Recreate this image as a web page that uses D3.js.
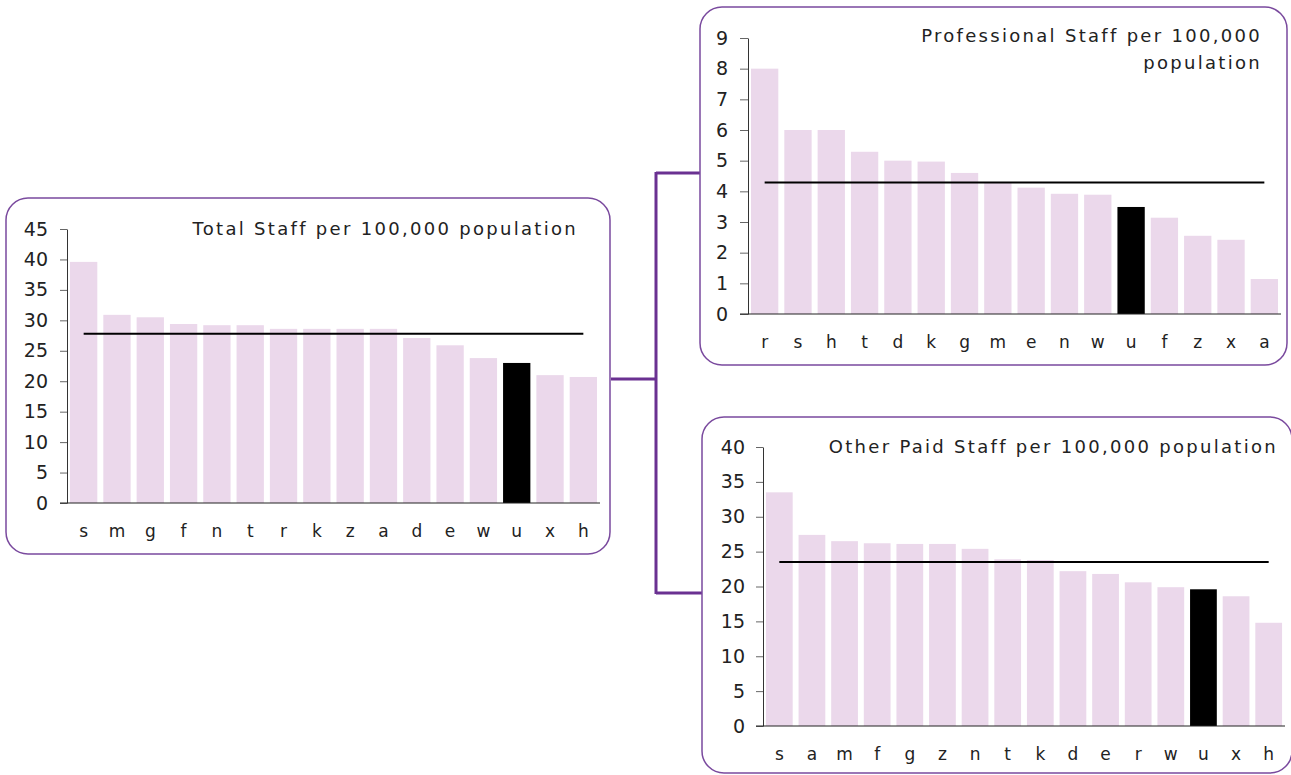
<!DOCTYPE html>
<html>
<head>
<meta charset="utf-8">
<script src="https://cdn.jsdelivr.net/npm/d3@7"></script>
<style>
  body { margin: 0; background: #fff; }
  text { font-family: "DejaVu Sans", sans-serif; fill: #222; }
</style>
</head>
<body>
<svg width="1291" height="775"></svg>
<script>
let highlight = "u";

let totalCats = ["s", "m", "g", "f", "n", "t", "r", "k", "z", "a", "d", "e", "w", "u", "x", "h"];
let totalValues = [39.6, 30.9, 30.5, 29.4, 29.2, 29.2, 28.6, 28.6, 28.6, 28.6, 27.1, 25.9, 23.8, 23.0, 21.0, 20.7];
let totalAvg = 27.8;
let totalTicks = [0, 5, 10, 15, 20, 25, 30, 35, 40, 45];

let profCats = ["r", "s", "h", "t", "d", "k", "g", "m", "e", "n", "w", "u", "f", "z", "x", "a"];
let profValues = [8.0, 6.0, 6.0, 5.29, 5.0, 4.97, 4.6, 4.3, 4.12, 3.92, 3.89, 3.49, 3.14, 2.55, 2.42, 1.14];
let profAvg = 4.29;
let profTicks = [0, 1, 2, 3, 4, 5, 6, 7, 8, 9];

let otherCats = ["s", "a", "m", "f", "g", "z", "n", "t", "k", "d", "e", "r", "w", "u", "x", "h"];
let otherValues = [33.5, 27.4, 26.5, 26.2, 26.1, 26.1, 25.4, 23.9, 23.8, 22.2, 21.8, 20.6, 19.9, 19.6, 18.6, 14.8];
let otherAvg = 23.5;
let otherTicks = [0, 5, 10, 15, 20, 25, 30, 35, 40];

let svg = d3.select("svg");
let purple = "#7a4a9e";

// connector between the panels
let conn = svg.append("g")
  .attr("fill", "none")
  .attr("stroke", "#6a3191")
  .attr("stroke-width", 3);
conn.append("line").attr("x1", 611).attr("y1", 379).attr("x2", 656).attr("y2", 379);
conn.append("line").attr("x1", 656).attr("y1", 172).attr("x2", 656).attr("y2", 594);
conn.append("line").attr("x1", 656).attr("y1", 173).attr("x2", 700).attr("y2", 173);
conn.append("line").attr("x1", 656).attr("y1", 593).attr("x2", 702).attr("y2", 593);

let drawPanel = (p) => {
  let g = svg.append("g");

  g.append("rect")
    .attr("x", p.box[0])
    .attr("y", p.box[1])
    .attr("width", p.box[2])
    .attr("height", p.box[3])
    .attr("rx", 22)
    .attr("fill", "#fff")
    .attr("stroke", purple)
    .attr("stroke-width", 1.5);

  let xScale = d3.scaleBand()
    .domain(p.cats)
    .range(p.xRange)
    .paddingInner(0.18)
    .paddingOuter(0.09);

  let yScale = d3.scaleLinear()
    .domain([0, d3.max(p.ticks)])
    .range(p.yRange);

  g.selectAll("rect.bar")
    .data(p.values)
    .enter()
    .append("rect")
    .attr("class", "bar")
    .attr("x", (d, i) => xScale(p.cats[i]))
    .attr("y", (d) => yScale(d))
    .attr("width", xScale.bandwidth())
    .attr("height", (d) => yScale(0) - yScale(d))
    .attr("fill", (d, i) => (p.cats[i] === highlight ? "#000" : "#ebd8eb"));

  // average line
  g.append("line")
    .attr("x1", xScale(p.cats[0]) + xScale.bandwidth() / 2)
    .attr("x2", xScale(p.cats[p.cats.length - 1]) + xScale.bandwidth() / 2)
    .attr("y1", yScale(p.avg))
    .attr("y2", yScale(p.avg))
    .attr("stroke", "#000")
    .attr("stroke-width", 2);

  let yAxis = d3.axisLeft(yScale)
    .tickValues(p.ticks)
    .tickSize(p.tickSize)
    .tickSizeOuter(0)
    .tickPadding(p.tickPad);

  let ya = g.append("g")
    .attr("transform", "translate(" + p.xRange[0] + ",0)")
    .call(yAxis);
  ya.select(".domain").attr("stroke", "#333");
  ya.selectAll(".tick line").attr("stroke", "#666");
  ya.selectAll(".tick text")
    .style("font-size", "19px")
    .style("font-family", "DejaVu Sans, sans-serif")
    .attr("fill", "#222");

  // baseline
  g.append("line")
    .attr("x1", p.xRange[0] - p.tickSize)
    .attr("x2", p.xRange[1])
    .attr("y1", yScale(0))
    .attr("y2", yScale(0))
    .attr("stroke", "#222")
    .attr("stroke-width", 1);

  g.selectAll("text.cat")
    .data(p.cats)
    .enter()
    .append("text")
    .attr("class", "cat")
    .attr("x", (d) => xScale(d) + xScale.bandwidth() / 2)
    .attr("y", yScale(0) + 34)
    .attr("text-anchor", "middle")
    .style("font-size", "17px")
    .text((d) => d);

  let title = g.append("text")
    .attr("text-anchor", "end")
    .style("font-size", "18px")
    .style("letter-spacing", "2.3px");
  p.title.forEach((line, i) => {
    title.append("tspan")
      .attr("x", p.titlePos[0])
      .attr("y", p.titlePos[1] + i * 27)
      .text(line);
  });
};

drawPanel({
  cats: totalCats, values: totalValues, avg: totalAvg, ticks: totalTicks,
  box: [6, 198, 604, 356],
  xRange: [67, 600], yRange: [503, 229],
  tickSize: 7, tickPad: 12,
  title: ["Total Staff per 100,000 population"], titlePos: [578, 235]
});

drawPanel({
  cats: profCats, values: profValues, avg: profAvg, ticks: profTicks,
  box: [700, 7, 587, 358],
  xRange: [748, 1281], yRange: [314, 38],
  tickSize: 8, tickPad: 12,
  title: ["Professional Staff per 100,000", "population"], titlePos: [1262, 42]
});

drawPanel({
  cats: otherCats, values: otherValues, avg: otherAvg, ticks: otherTicks,
  box: [702, 417, 590, 356],
  xRange: [763, 1285], yRange: [726, 447],
  tickSize: 7, tickPad: 11,
  title: ["Other Paid Staff per 100,000 population"], titlePos: [1278, 453]
});
</script>
</body>
</html>
